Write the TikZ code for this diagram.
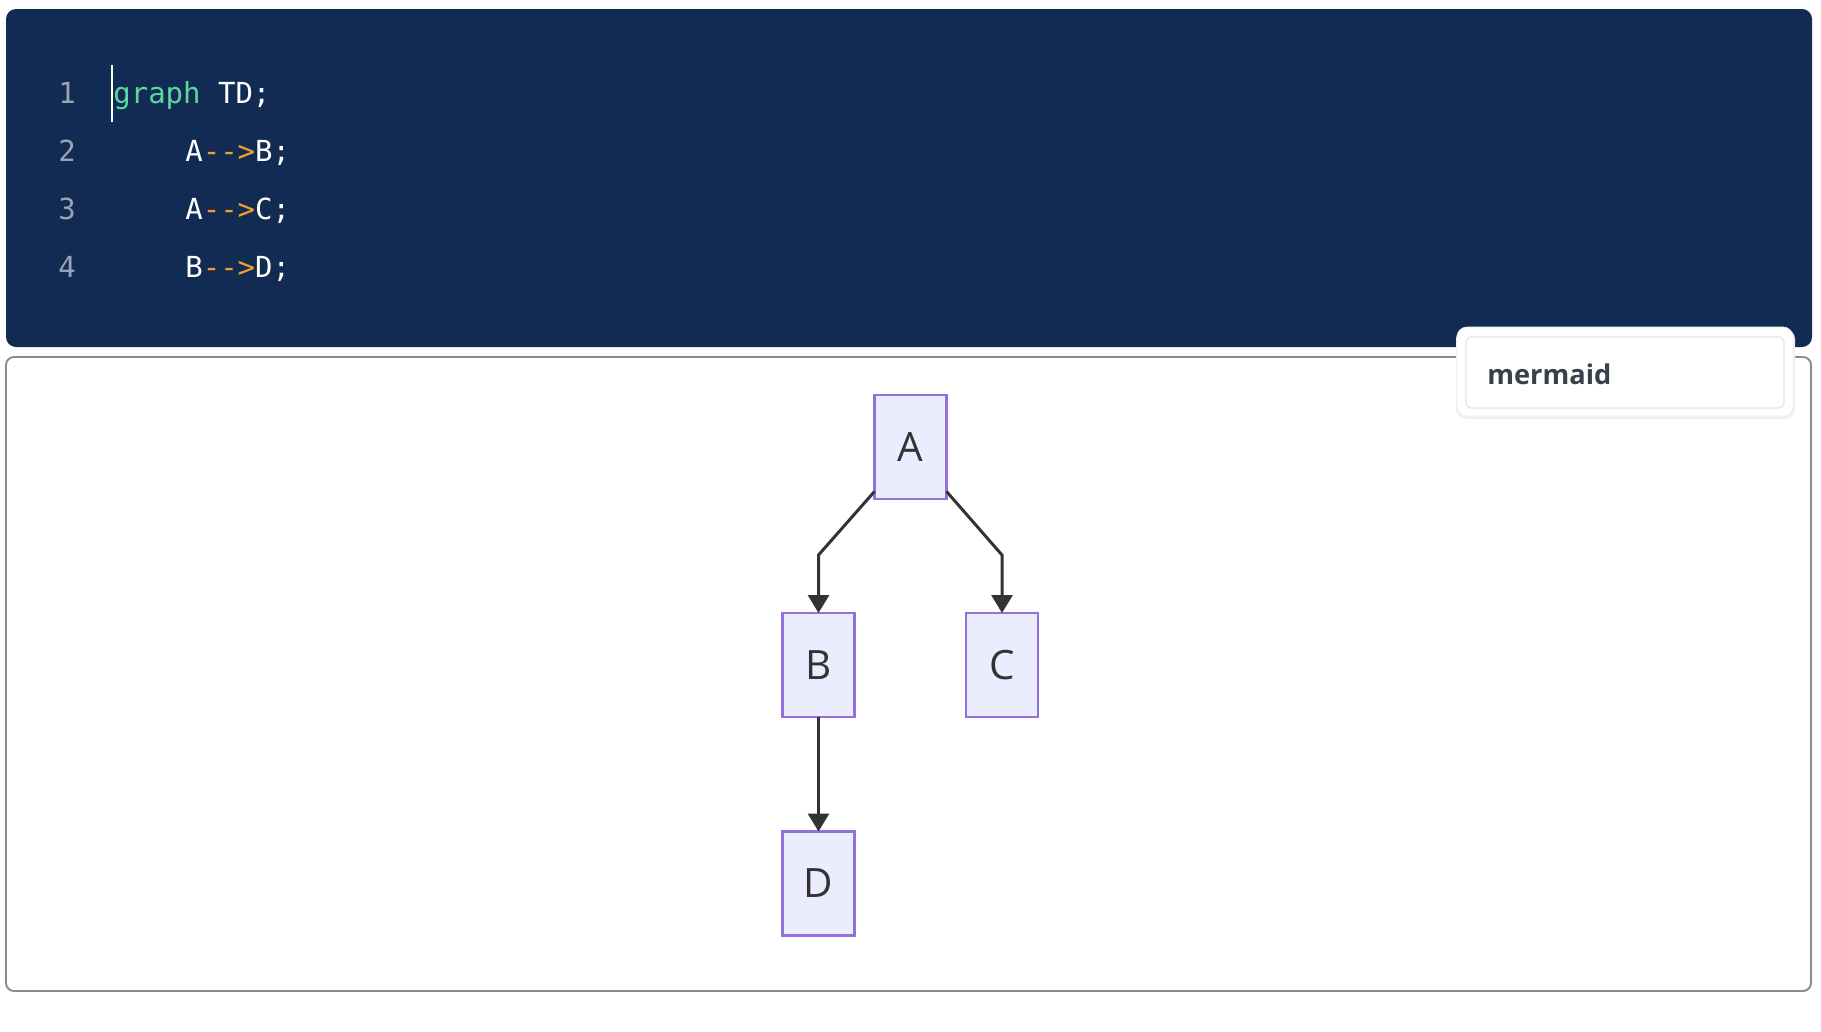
\documentclass[tikz,border=0pt]{standalone}
\usepackage{fontspec}
\setmainfont{Open Sans}
\setmonofont{DejaVu Sans Mono}
\usetikzlibrary{arrows.meta}
\definecolor{codebg}{HTML}{122B52}
\definecolor{lineno}{HTML}{9AA3B5}
\definecolor{kwgreen}{HTML}{5BD6A0}
\definecolor{arrorange}{HTML}{F0A030}
\definecolor{nodefill}{HTML}{ECECFF}
\definecolor{nodeline}{HTML}{9370DB}
\definecolor{edgecol}{HTML}{333333}
\definecolor{framecol}{HTML}{8C8C8C}
\definecolor{tagline}{HTML}{E3E7EB}
\definecolor{tagtext}{HTML}{36414C}

\begin{document}
\begin{tikzpicture}[x=0.02cm,y=-0.02cm,
  codetext/.style={anchor=base west, inner sep=0pt, text=white,
    font=\ttfamily\fontsize{16.5}{20}\selectfont},
  numtext/.style={anchor=base, inner sep=0pt, text=lineno,
    font=\ttfamily\fontsize{16.5}{20}\selectfont},
  flownode/.style={draw=nodeline, fill=nodefill, line width=1.2pt,
    minimum width=1.44cm, minimum height=2.08cm, outer sep=0pt,
    text=edgecol, font=\fontsize{23}{26}\selectfont},
  edge/.style={draw=edgecol, line width=1.7pt,
    -{Triangle[length=0.36cm,width=0.42cm]}}]
\useasboundingbox[fill=white] (0,0) rectangle (1821,1031);

% editor
\fill[codebg, rounded corners=0.2cm] (6,9) rectangle (1812,347);
\node[numtext] (ln1) at (67,103) {1};
\node[numtext] (ln2) at (67,161) {2};
\node[numtext] (ln3) at (67,219) {3};
\node[numtext] (ln4) at (67,277) {4};
\node[codetext] (code1) at (113,103) {{\color{kwgreen}graph} TD;};
\node[codetext] (code2) at (185,161) {A{\color{arrorange}-{}-{}>}B;};
\node[codetext] (code3) at (185,219) {A{\color{arrorange}-{}-{}>}C;};
\node[codetext] (code4) at (185,277) {B{\color{arrorange}-{}-{}>}D;};
\draw[white, line width=0.9pt] (112,65) -- (112,122);

% preview
\draw[framecol, line width=1.1pt, rounded corners=0.16cm] (6,357) rectangle (1811,991);

% language tag
\fill[black!6, rounded corners=0.2cm] (1456,329) rectangle (1795,419);
\draw[fill=white, draw=tagline!60, rounded corners=0.2cm] (1457,327) rectangle (1793,416);
\draw[tagline, line width=0.8pt, rounded corners=0.12cm] (1466,337) rectangle (1784,408);
\node[anchor=base west, inner sep=0pt, text=tagtext, font=\bfseries\fontsize{15.5}{18}\selectfont]
  (tag) at (1487,384) {mermaid};

% graph
\node[flownode] (A) at (910.5,447) {A};
\node[flownode] (B) at (818.5,665) {B};
\node[flownode] (C) at (1002,665) {C};
\node[flownode] (D) at (818.5,883.5) {D};
\coordinate (split) at (0,555);
\draw[edge] (A.231) -- (split -| B) -- (B);
\draw[edge] (A.309) -- (split -| C) -- (C);
\draw[edge] (B) -- (D);
\end{tikzpicture}
\end{document}
